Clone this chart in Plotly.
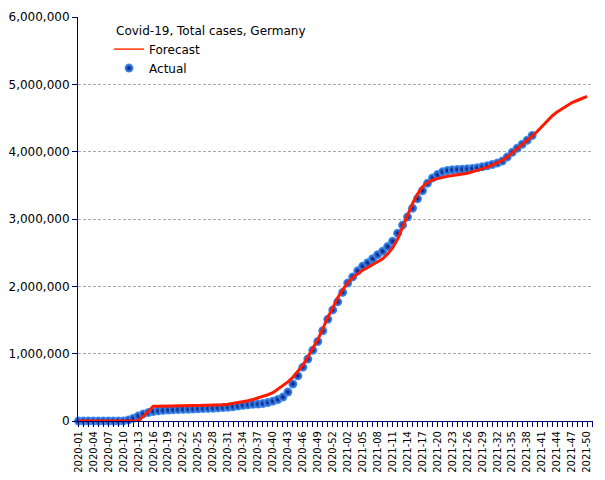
import plotly.graph_objects as go

# Week categories
weeks = [f"2020-{w:02d}" for w in range(1, 54)] + [f"2021-{w:02d}" for w in range(1, 51)]

actual = [
    0, 0, 0, 0, 0, 0, 0, 0, 0, 1000,
    15000, 40000, 75000, 105000, 125000, 140000, 150000, 157000, 162000, 166000,
    169000, 172000, 175000, 178000, 181000, 184000, 187000, 190000, 194000, 199000,
    205000, 212000, 222000, 233000, 240000, 247000, 252000, 260000, 275000, 295000,
    320000, 355000, 430000, 550000, 670000, 800000, 920000, 1050000, 1180000, 1340000,
    1510000, 1650000, 1770000, 1910000, 2050000, 2140000, 2230000, 2300000, 2350000, 2410000,
    2470000, 2520000, 2590000, 2670000, 2790000, 2910000, 3030000, 3160000, 3300000, 3420000,
    3530000, 3610000, 3660000, 3700000, 3720000, 3730000, 3735000, 3740000, 3745000, 3750000,
    3760000, 3775000, 3790000, 3810000, 3830000, 3860000, 3920000, 3990000, 4050000, 4110000,
    4170000, 4240000,
]

forecast = [
    0, 0, 0, 0, 0, 0, 0, 0, 0, 0,
    0, 0, 0, 70000, 150000, 220000, 220000, 220000, 220000, 220000,
    220000, 220000, 222000, 230000, 232000, 233000, 234000, 235000, 237000, 240000,
    250000, 260000, 270000, 290000, 300000, 320000, 340000, 360000, 390000, 420000,
    470000, 520000, 580000, 650000, 740000, 830000, 950000, 1070000, 1210000, 1370000,
    1540000, 1680000, 1830000, 1950000, 2050000, 2130000, 2190000, 2240000, 2280000, 2320000,
    2360000, 2410000, 2480000, 2570000, 2700000, 2870000, 3050000, 3230000, 3370000, 3480000,
    3540000, 3580000, 3600000, 3620000, 3635000, 3645000, 3655000, 3665000, 3680000, 3700000,
    3720000, 3745000, 3770000, 3800000, 3830000, 3870000, 3920000, 3980000, 4040000, 4100000,
    4160000, 4230000, 4300000, 4380000, 4460000, 4530000, 4590000, 4640000, 4690000, 4730000,
    4760000, 4790000, 4820000,
]

y_ticks = [0, 1000000, 2000000, 3000000, 4000000, 5000000, 6000000]

label_idx = list(range(0, len(weeks), 3))
label_text = [weeks[i] for i in label_idx]

NAVY = "#000066"
FONT = "DejaVu Sans"
RED = "#ff1a00"

fig = go.Figure()

fig.add_trace(go.Scatter(
    x=list(range(len(actual))), y=actual, mode="markers", name="Actual",
    marker=dict(size=9, color="#4a9cff",
                gradient=dict(type="radial", color="#001478"),
                line=dict(width=0)),
    cliponaxis=False,
))

fig.add_trace(go.Scatter(
    x=list(range(len(forecast))), y=forecast, mode="lines", name="Forecast",
    line=dict(color=RED, width=3),
    cliponaxis=False, showlegend=False,
))

# legend-only entry with a thinner sample line
fig.add_trace(go.Scatter(
    x=[None], y=[None], mode="lines", name="Forecast",
    line=dict(color="#ff3300", width=1.5),
))

fig.update_layout(
    width=605, height=480,
    margin=dict(l=78, r=12, t=17, b=59),
    paper_bgcolor="white", plot_bgcolor="white",
    font=dict(family=FONT, size=12, color="black"),
    showlegend=True,
    legend=dict(
        x=0.07, y=0.995, xanchor="left", yanchor="top",
        bgcolor="rgba(0,0,0,0)", borderwidth=0,
        traceorder="reversed", indentation=-5,
        title=dict(text="Covid-19, Total cases, Germany", font=dict(size=12, family=FONT)),
        font=dict(size=12, family=FONT),
        tracegroupgap=0,
    ),
    xaxis=dict(
        range=[-0.1, 103.2], automargin=False,
        tickmode="array", tickvals=label_idx, ticktext=label_text,
        tickangle=-90, tickfont=dict(size=10, family=FONT, color="black"),
        ticks="outside", ticklen=5, tickcolor=NAVY, tickwidth=1,
        minor=dict(ticks="outside", ticklen=5, tickcolor=NAVY, tickwidth=1, dtick=1, tick0=0, showgrid=False),
        showline=True, linecolor=NAVY, linewidth=1,
        showgrid=False, zeroline=False,
    ),
    yaxis=dict(
        range=[0, 6000000], automargin=False,
        tickmode="array", tickvals=y_ticks, tickformat=",d",
        tickfont=dict(size=12, family=FONT, color="black"),
        ticks="outside", ticklen=5, tickcolor=NAVY, tickwidth=1,
        showline=True, linecolor=NAVY, linewidth=1,
        showgrid=True, gridcolor="#aaaaaa", gridwidth=1, griddash="3px,2px",
        zeroline=False,
    ),
)

fig.write_html("out.html")
